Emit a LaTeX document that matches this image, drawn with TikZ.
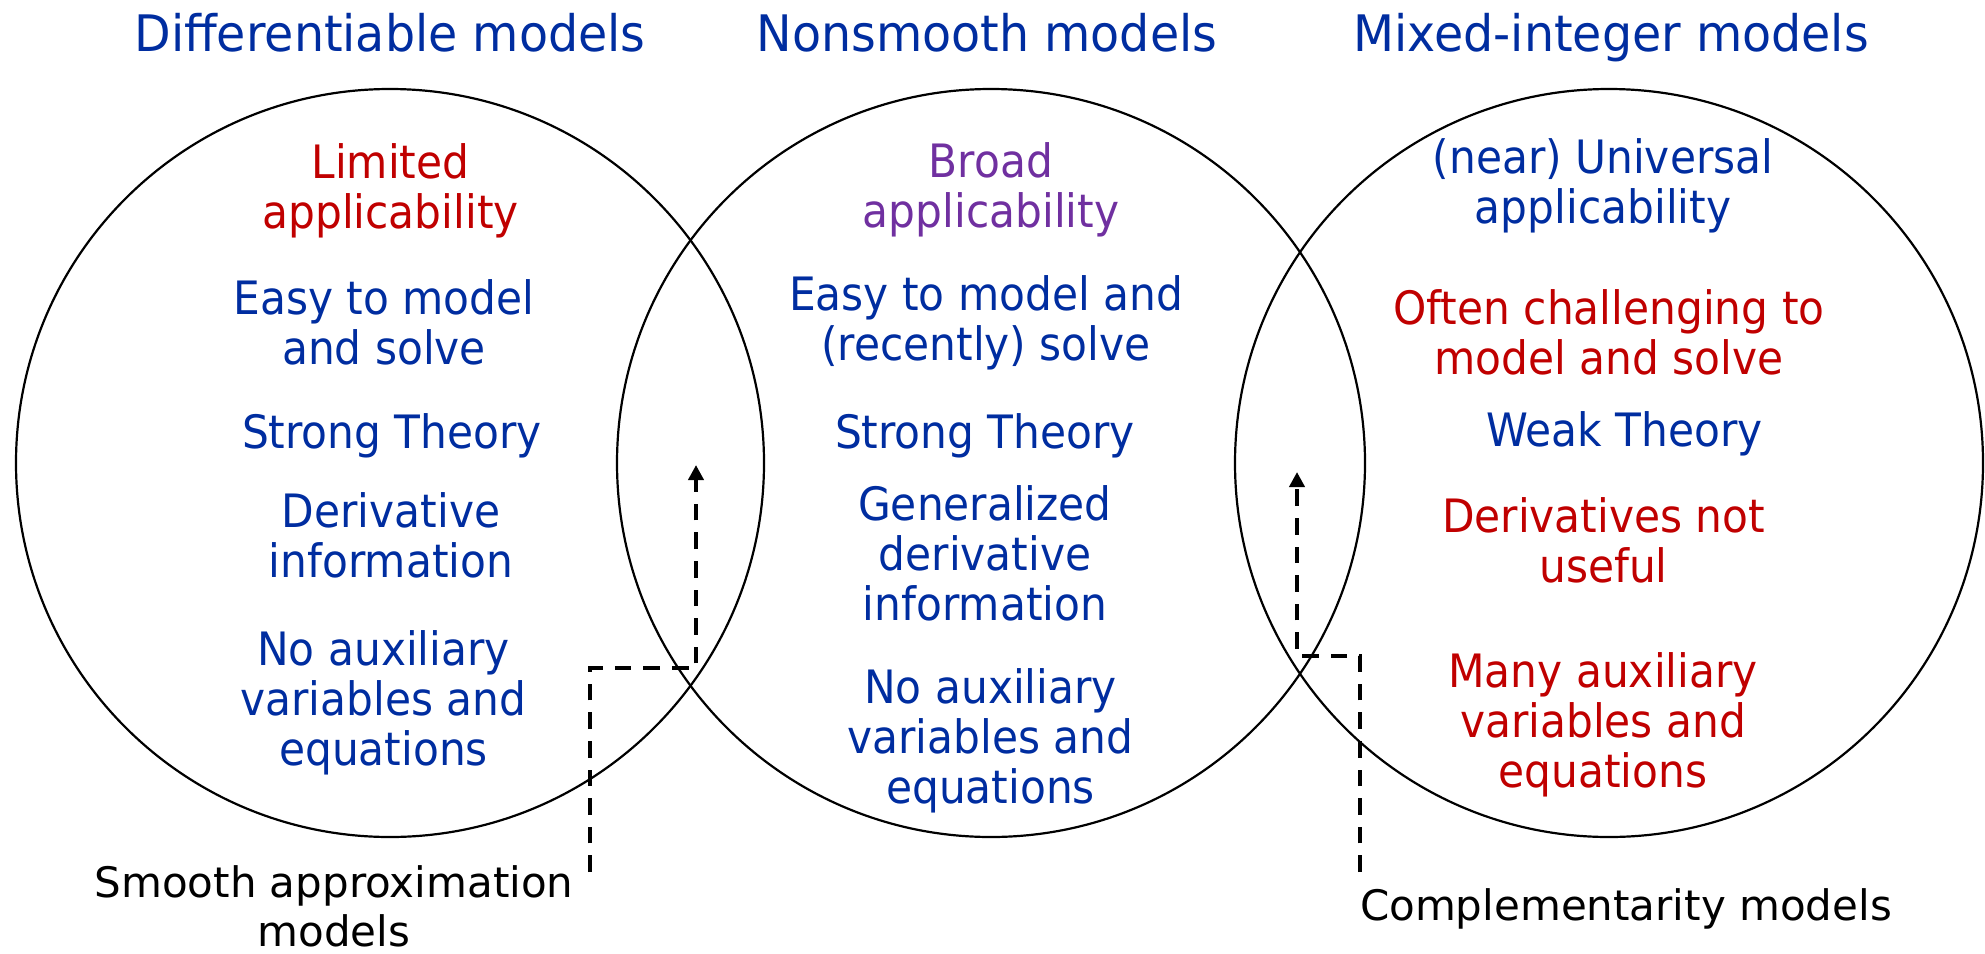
\documentclass[tikz,border=0pt]{standalone}
\usepackage{fontspec}
\setmainfont{DejaVu Sans}
\newfontfamily\headfont[FakeStretch=0.945]{DejaVu Sans}
\newfontfamily\itemfont[FakeStretch=0.92]{DejaVu Sans}
\usetikzlibrary{arrows.meta}
\definecolor{ttlblue}{RGB}{0,45,160}
\definecolor{conred}{RGB}{192,0,0}
\definecolor{midpurple}{RGB}{112,48,160}

\begin{document}
\begin{tikzpicture}[x=0.5pt,y=-0.5pt,
  ring/.style={circle,draw=black,line width=1.1pt,minimum size=374pt,inner sep=0pt},
  head/.style={font=\headfont\fontsize{25.15}{30}\selectfont,text=ttlblue,anchor=base,inner sep=0pt},
  item/.style={font=\itemfont\fontsize{23}{25}\selectfont,align=center,anchor=base,inner sep=0pt,text=ttlblue},
  bad/.style={item,text=conred},
  note/.style={font=\fontsize{21}{24.5}\selectfont,align=center,anchor=base,inner sep=0pt},
  link/.style={line width=2.1pt,dash pattern=on 8.3pt off 6pt,
    -{Triangle[length=7.5pt,width=7.5pt]}}]
\useasboundingbox (0,0) rectangle (1985,953);

% the three model classes
\node[ring] (diff) at (390,463) {};
\node[ring] (nons) at (991,463) {};
\node[ring] (mint) at (1609,463) {};

% headings
\node[head] (hdiff) at (390,51) {Differentiable models};
\node[head] (hnons) at (987,51) {Nonsmooth models};
\node[head] (hmint) at (1611,51) {Mixed-integer models};

% differentiable models (each text sits on the baseline of its last line)
\node[bad]  (d1) at (390.5,228) {Limited\\applicability};
\node[item] (d2) at (384,364.6) {Easy to model\\and solve};
\node[item] (d3) at (392,448) {Strong Theory};
\node[item] (d4) at (391,577.6) {Derivative\\information};
\node[item] (d5) at (383.5,765) {No auxiliary\\variables and\\equations};

% nonsmooth models
\node[item,text=midpurple] (n1) at (991,227) {Broad\\applicability};
\node[item] (n2) at (986,360) {Easy to model and\\(recently) solve};
\node[item] (n3) at (985,448) {Strong Theory};
\node[item] (n4) at (985,620) {Generalized\\derivative\\information};
\node[item] (n5) at (990.5,803) {No auxiliary\\variables and\\equations};

% mixed-integer models
\node[item] (m1) at (1603,223.6) {(near) Universal\\applicability};
\node[bad]  (m2) at (1609,374.5) {Often challenging to\\model and solve};
\node[item] (m3) at (1624.7,446) {Weak Theory};
\node[bad]  (m4) at (1603.5,582) {Derivatives not\\useful};
\node[bad]  (m5) at (1603,787.4) {Many auxiliary\\variables and\\equations};

% reformulation labels
\node[note] (smooth) at (334,946) {Smooth approximation\\models};
\node[note] (compl) at (1626,920) {Complementarity models};

% connectors into the overlaps
\coordinate (smoothfoot) at (590,872);
\coordinate (smoothbend) at (696,668);
\coordinate (smoothtip) at (696,465);
\coordinate (complfoot) at (1360,872);
\coordinate (complbend) at (1297,656);
\coordinate (compltip) at (1297,472);
\draw[link] (smoothfoot) |- (smoothbend) -- (smoothtip);
\draw[link] (complfoot) |- (complbend) -- (compltip);
\end{tikzpicture}
\end{document}
